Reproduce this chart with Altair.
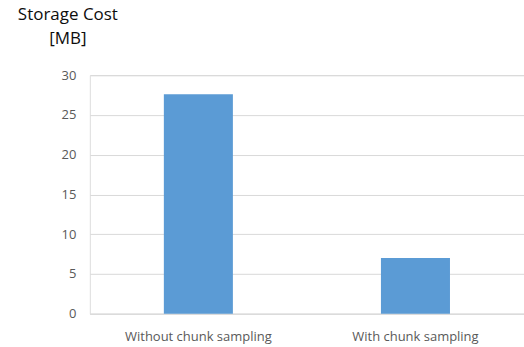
import altair as alt
import pandas as pd

categories = ["Without chunk sampling", "With chunk sampling"]
values = [27.6, 7.0]
y_ticks = [0, 5, 10, 15, 20, 25, 30]

df = pd.DataFrame({"method": categories, "cost": values})

FONT = "Open Sans"

chart = alt.Chart(df).mark_bar(
    color="#5B9BD5", width=alt.RelativeBandSize(0.318)
).encode(
    x=alt.X("method:N", sort=categories, title=None,
            scale=alt.Scale(paddingInner=0, paddingOuter=0),
            axis=alt.Axis(labelAngle=0, labelFont=FONT, labelFontSize=13,
                          labelColor="#595959", ticks=False, domain=True,
                          domainColor="#D9D9D9", labelPadding=17, grid=False)),
    y=alt.Y("cost:Q", title=None,
            scale=alt.Scale(domain=[0, 30], nice=False),
            axis=alt.Axis(values=y_ticks, labelFont=FONT, labelFontSize=13,
                          labelColor="#595959", ticks=False, domain=False,
                          gridColor="#D9D9D9", labelPadding=14)),
).properties(
    width=435,
    height=239,
    title=alt.TitleParams(
        text=["Storage Cost", "[MB]"],
        anchor="start", align="center", frame="group", dx=-22, offset=21,
        font=FONT, fontSize=17, fontWeight=500, color="#0d0d0d",
        lineHeight=24,
    ),
    autosize=alt.AutoSizeParams(type="none"),
    padding={"left": 90, "top": 75, "right": 0, "bottom": 33},
).configure_view(stroke=None).configure(background="white")

chart.save("out.html", embed_options={"renderer": "svg", "actions": False})
